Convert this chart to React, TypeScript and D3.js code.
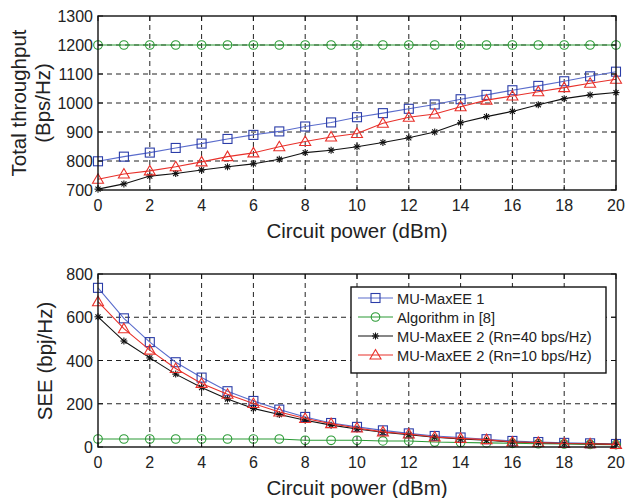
import React from "react";
import * as d3 from "d3";

const xs = d3.range(0, 21);
const xTicks = [0, 2, 4, 6, 8, 10, 12, 14, 16, 18, 20];

const topBlue = [799, 815, 829, 845, 860, 876, 890, 902, 919, 933, 951, 965, 980, 995, 1013, 1028, 1044, 1059, 1075, 1092, 1108];
const topGreen = [1200, 1200, 1200, 1200, 1200, 1200, 1200, 1200, 1200, 1200, 1200, 1200, 1200, 1200, 1200, 1200, 1200, 1200, 1200, 1200, 1200];
const topBlack = [703, 721, 748, 757, 769, 780, 790, 806, 829, 837, 849, 864, 880, 900, 932, 953, 971, 994, 1015, 1028, 1036];
const topRed = [737, 755, 766, 780, 797, 815, 828, 849, 867, 883, 895, 930, 951, 962, 987, 1010, 1024, 1039, 1053, 1068, 1082];
const topYTicks = [700, 800, 900, 1000, 1100, 1200, 1300];

const botBlue = [736, 595, 485, 392, 321, 258, 213, 173, 139, 111, 93, 77, 63, 51, 44, 36, 28, 23, 19, 17, 14];
const botGreen = [37, 37, 37, 37, 37, 37, 37, 37, 31, 31, 31, 28, 28, 23, 21, 19, 17, 15, 14, 12, 11];
const botBlack = [602, 490, 412, 337, 275, 222, 178, 150, 124, 101, 83, 68, 57, 45, 37, 31, 23, 20, 16, 15, 12];
const botRed = [672, 547, 448, 363, 294, 244, 201, 162, 132, 108, 88, 70, 60, 46, 40, 34, 23, 21, 16, 15, 12];
const botYTicks = [0, 200, 400, 600, 800];

const legendLabels = ["MU-MaxEE 1", "Algorithm in [8]", "MU-MaxEE 2 (Rn=40 bps/Hz)", "MU-MaxEE 2 (Rn=10 bps/Hz)"];

const FONT = "'Liberation Sans', Arial, Helvetica, sans-serif";
const styles = [
  { line: "#5a6ccc", mark: "#2b3da8", shape: "square" },
  { line: "#2a9a35", mark: "#2a9a35", shape: "circle" },
  { line: "#111111", mark: "#111111", shape: "star" },
  { line: "#e8302a", mark: "#e8302a", shape: "triangle" },
];

function Marker({ shape, x, y, color }: { shape: string; x: number; y: number; color: string }) {
  if (shape === "square") return <rect x={x - 4.5} y={y - 4.5} width={9} height={9} fill="none" stroke={color} strokeWidth={1.1} />;
  if (shape === "circle") return <circle cx={x} cy={y} r={4.3} fill="none" stroke={color} strokeWidth={1.1} />;
  if (shape === "triangle") {
    const p = `${x},${y - 5.5} ${x + 5.5},${y + 4} ${x - 5.5},${y + 4}`;
    return <polygon points={p} fill="none" stroke={color} strokeWidth={1.1} />;
  }
  const r = 3.5;
  const d = r * 0.72;
  return (
    <g stroke={color} strokeWidth={1.1}>
      <line x1={x - r} y1={y} x2={x + r} y2={y} />
      <line x1={x} y1={y - r} x2={x} y2={y + r} />
      <line x1={x - d} y1={y - d} x2={x + d} y2={y + d} />
      <line x1={x - d} y1={y + d} x2={x + d} y2={y - d} />
    </g>
  );
}

function Panel({ top, bottom, yDomain, yTicks, series, yLabel, legend }: any) {
  const left = 98, right = 616;
  const x = d3.scaleLinear().domain([0, 20]).range([left, right]);
  const y = d3.scaleLinear().domain(yDomain).range([bottom, top]);
  const line = d3.line<number>().x((_, i) => x(xs[i])).y((v) => y(v));
  const tl = 5;
  return (
    <g fontFamily={FONT} fill="#222">
      {xTicks.slice(1, -1).map((t) => (
        <line key={"gx" + t} x1={x(t)} x2={x(t)} y1={top} y2={bottom} stroke="#222" strokeWidth={1} strokeDasharray="5,4" />
      ))}
      {yTicks.slice(1, -1).map((t: number) => (
        <line key={"gy" + t} x1={left} x2={right} y1={y(t)} y2={y(t)} stroke="#222" strokeWidth={1} strokeDasharray="5,4" />
      ))}
      {series.map((s: number[], k: number) => (
        <g key={k}>
          <path d={line(s) || ""} fill="none" stroke={styles[k].line} strokeWidth={1.1} />
          {s.map((v, i) => (
            <Marker key={i} shape={styles[k].shape} x={x(xs[i])} y={y(v)} color={styles[k].mark} />
          ))}
        </g>
      ))}
      <rect x={left} y={top} width={right - left} height={bottom - top} fill="none" stroke="#111" strokeWidth={1.4} />
      {xTicks.map((t) => (
        <g key={"tx" + t}>
          <line x1={x(t)} x2={x(t)} y1={bottom} y2={bottom - tl} stroke="#111" />
          <line x1={x(t)} x2={x(t)} y1={top} y2={top + tl} stroke="#111" />
          <text x={x(t)} y={bottom + 21} textAnchor="middle" fontSize={16}>{t}</text>
        </g>
      ))}
      {yTicks.map((t: number) => (
        <g key={"ty" + t}>
          <line x1={left} x2={left + tl} y1={y(t)} y2={y(t)} stroke="#111" />
          <line x1={right} x2={right - tl} y1={y(t)} y2={y(t)} stroke="#111" />
          <text x={left - 5} y={y(t) + 6} textAnchor="end" fontSize={16}>{t}</text>
        </g>
      ))}
      <text x={(left + right) / 2} y={bottom + 48} textAnchor="middle" fontSize={20.5}>Circuit power (dBm)</text>
      {yLabel}
      {legend}
    </g>
  );
}

export default function App() {
  const legend = (
    <g>
      <rect x={351} y={287} width={255} height={86} fill="#fff" stroke="#111" strokeWidth={1.4} />
      {legendLabels.map((lab, i) => {
        const cy = 298 + i * 19;
        return (
          <g key={lab}>
            <line x1={358} x2={393} y1={cy} y2={cy} stroke={styles[i].line} strokeWidth={1.1} />
            <Marker shape={styles[i].shape} x={375.5} y={cy} color={styles[i].mark} />
            <text x={397} y={cy + 5.5} fontSize={14.7} fill="#222">{lab}</text>
          </g>
        );
      })}
    </g>
  );
  return (
    <svg width={626} height={498} style={{ position: "absolute", left: 0, top: 0, background: "#fff" }}>
      <rect width={626} height={498} fill="#fff" />
      <Panel
        top={16}
        bottom={190}
        yDomain={[700, 1300]}
        yTicks={topYTicks}
        series={[topBlue, topGreen, topBlack, topRed]}
        yLabel={
          <g transform="translate(0,103) rotate(-90)" fontSize={20.5}>
            <text x={0} y={26} textAnchor="middle">Total throughput</text>
            <text x={0} y={50} textAnchor="middle">(Bps/Hz)</text>
          </g>
        }
      />
      <Panel
        top={274}
        bottom={447}
        yDomain={[0, 800]}
        yTicks={botYTicks}
        series={[botBlue, botGreen, botBlack, botRed]}
        yLabel={
          <g transform="translate(0,361) rotate(-90)" fontSize={20.5}>
            <text x={0} y={52} textAnchor="middle">SEE (bpj/Hz)</text>
          </g>
        }
        legend={legend}
      />
    </svg>
  );
}
